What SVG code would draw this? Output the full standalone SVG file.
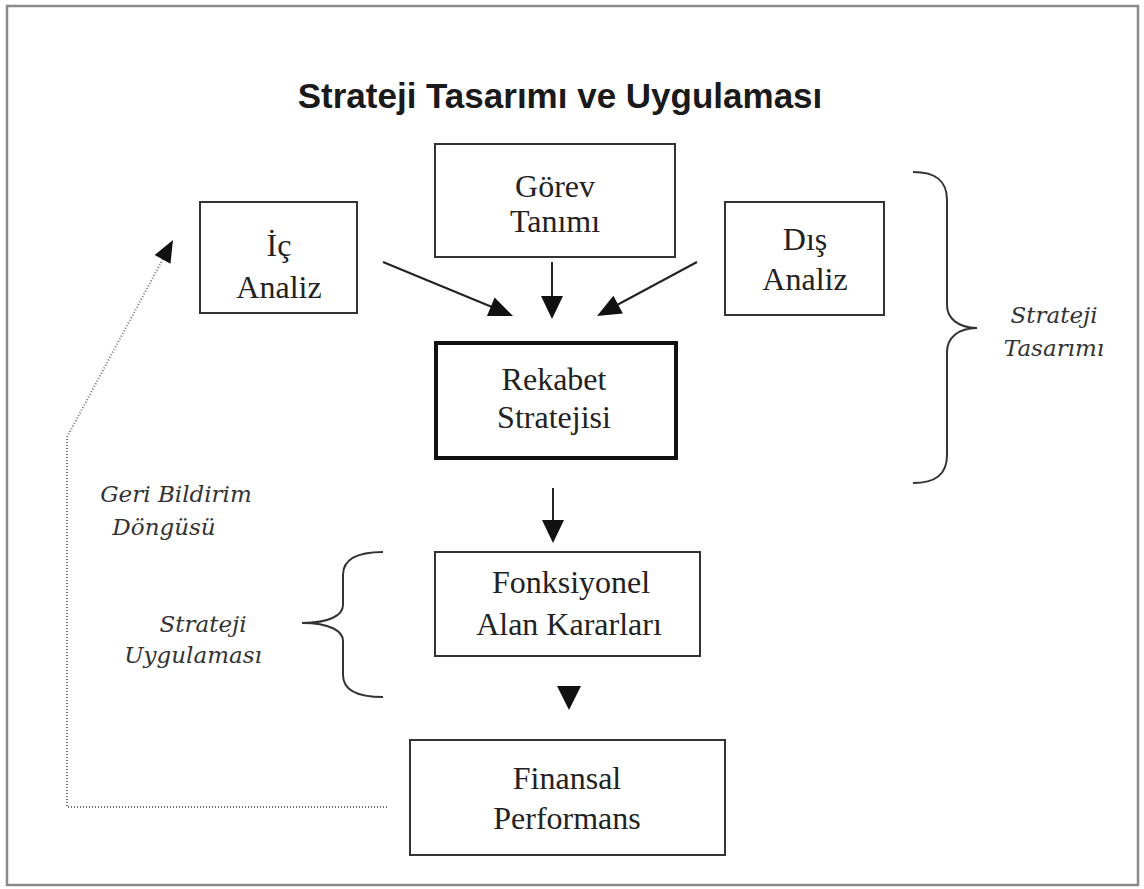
<svg xmlns="http://www.w3.org/2000/svg" width="1144" height="889" viewBox="0 0 1144 889">
  <style>
    .box { fill: #fff; stroke: #333; stroke-width: 2; }
    .box-strong { fill: #fff; stroke: #111; stroke-width: 4; }
    .lbl { font-family: "Liberation Serif", "Times New Roman", serif; font-size: 32px; fill: #222; text-anchor: middle; }
    .note { font-family: "DejaVu Serif", "Liberation Serif", serif; font-style: italic; font-size: 23px; fill: #333; text-anchor: middle; }
    .title { font-family: "Liberation Sans", Arial, sans-serif; font-weight: bold; font-size: 35px; fill: #1a1a1a; text-anchor: middle; }
    .link { stroke: #222; stroke-width: 2; fill: none; }
    .head { fill: #111; stroke: none; }
    .brace { stroke: #333; stroke-width: 2; fill: none; }
    .dotted { stroke: #777; stroke-width: 2; stroke-dasharray: 1 2; fill: none; }
  </style>

  <rect width="1144" height="889" fill="#fff"/>
  <!-- outer frame -->
  <rect x="7" y="6" width="1131" height="879" fill="none" stroke="#8a8a8a" stroke-width="2.5"/>

  <text class="title" x="560" y="108">Strateji Tasarımı ve Uygulaması</text>

  <!-- nodes -->
  <g id="ic-analiz">
    <rect class="box" x="200" y="202" width="157" height="111"/>
    <text class="lbl" x="279" y="256">İç</text>
    <text class="lbl" x="279" y="298">Analiz</text>
  </g>
  <g id="gorev-tanimi">
    <rect class="box" x="435" y="144" width="240" height="113"/>
    <text class="lbl" x="555" y="197">Görev</text>
    <text class="lbl" x="555" y="232">Tanımı</text>
  </g>
  <g id="dis-analiz">
    <rect class="box" x="725" y="202" width="159" height="113"/>
    <text class="lbl" x="805" y="250">Dış</text>
    <text class="lbl" x="805" y="290">Analiz</text>
  </g>
  <g id="rekabet-stratejisi">
    <rect class="box-strong" x="436" y="343" width="240" height="115"/>
    <text class="lbl" x="554" y="390">Rekabet</text>
    <text class="lbl" x="554" y="428">Stratejisi</text>
  </g>
  <g id="fonksiyonel-alan">
    <rect class="box" x="435" y="552" width="265" height="104"/>
    <text class="lbl" x="571" y="593">Fonksiyonel</text>
    <text class="lbl" x="569" y="635">Alan Kararları</text>
  </g>
  <g id="finansal-performans">
    <rect class="box" x="410" y="740" width="315" height="115"/>
    <text class="lbl" x="567" y="789">Finansal</text>
    <text class="lbl" x="567" y="829">Performans</text>
  </g>

  <!-- side annotations -->
  <g id="strateji-tasarimi">
    <path class="brace" d="M913,172 C935,172 947,180 947,200 L947,305 C947,318 958,328 977,328 C958,328 947,338 947,352 L947,455 C947,475 935,483 913,483"/>
    <text class="note" x="1054" y="323">Strateji</text>
    <text class="note" x="1054" y="356">Tasarımı</text>
  </g>
  <g id="strateji-uygulamasi">
    <path class="brace" d="M383,552 C360,552 343,558 343,575 L343,605 C343,615 330,623 302,623 C330,623 343,631 343,641 L343,675 C343,692 360,697 383,697"/>
    <text class="note" x="203" y="632">Strateji</text>
    <text class="note" x="193" y="663">Uygulaması</text>
  </g>
  <g id="geri-bildirim">
    <text class="note" x="176" y="502">Geri Bildirim</text>
    <text class="note" x="164" y="535">Döngüsü</text>
  </g>

  <!-- connectors -->
  <g id="connectors">
    <line class="link" x1="383" y1="262" x2="492" y2="307"/>
    <polygon class="head" points="513,316 487,316 494.6,297.6"/>

    <line class="link" x1="552" y1="262" x2="552" y2="297"/>
    <polygon class="head" points="541,296 563,296 552,319"/>

    <line class="link" x1="697" y1="262" x2="617" y2="305"/>
    <polygon class="head" points="597,316 622.9,313.4 613.4,295.8"/>

    <line class="link" x1="553" y1="488" x2="553" y2="521"/>
    <polygon class="head" points="542,520 564,520 553,543"/>

    <polygon class="head" points="557,686 581,686 569,710"/>

    <polyline class="dotted" points="387,807 67,807 67,437 164,257"/>
    <polygon class="head" points="173,240 170.5,263.7 154.7,255.1"/>
  </g>
</svg>
